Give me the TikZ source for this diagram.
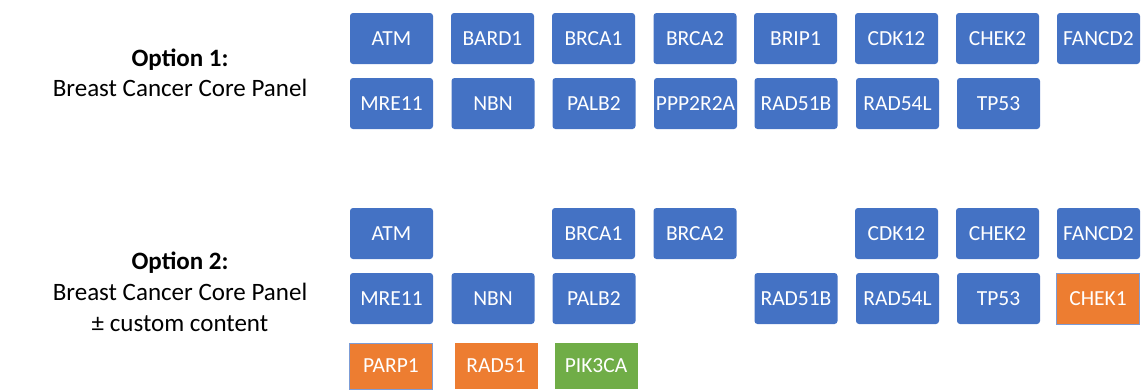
\documentclass[tikz,border=0pt]{standalone}
\usepackage{fontspec}
\setmainfont{Carlito}
\definecolor{gblue}{HTML}{4472C4}
\definecolor{gorange}{HTML}{ED7D31}
\definecolor{ggreen}{HTML}{70AD47}
\begin{document}
\begin{tikzpicture}[x=1pt,y=-1pt,
  genebox/.style={rounded corners=3pt, fill=gblue, text=white,
    font=\fontsize{21.5}{22}\selectfont, minimum width=83pt, minimum height=51pt,
    inner sep=0pt, text height=13.8pt, text depth=0pt},
  addbox/.style={genebox, rounded corners=0pt, fill=gorange, minimum height=46pt},
  addbluebox/.style={addbox, draw=gblue!70, line width=0.8pt},
  greenbox/.style={addbox, fill=ggreen},
  optlabel/.style={anchor=base, inner sep=0pt, font=\fontsize{25}{26}\selectfont\bfseries},
  panellabel/.style={anchor=base, inner sep=0pt, font=\fontsize{25}{26}\selectfont}]
\useasboundingbox (0,0) rectangle (1143,389);
\clip (0,0) rectangle (1143,389);
% Option 1 labels
\node[optlabel] (o1a) at (180,66.7) {Option 1:};
\node[panellabel] (o1b) at (180,96.7) {Breast Cancer Core Panel};
% Option 1 row 1
\node[genebox] (a1) at (391.5,38.5) {ATM};
\node[genebox] (a2) at (492.5,38.5) {BARD1};
\node[genebox] (a3) at (593.5,38.5) {BRCA1};
\node[genebox] (a4) at (695,38.5) {BRCA2};
\node[genebox] (a5) at (795.5,38.5) {BRIP1};
\node[genebox] (a6) at (896.5,38.5) {CDK12};
\node[genebox] (a7) at (997.5,38.5) {CHEK2};
\node[genebox] (a8) at (1098.5,38.5) {FANCD2};
% Option 1 row 2
\node[genebox] (b1) at (391.5,103.5) {MRE11};
\node[genebox] (b2) at (493,103.5) {NBN};
\node[genebox] (b3) at (594,103.5) {PALB2};
\node[genebox] (b4) at (695.5,103.5) {PPP2R2A};
\node[genebox] (b5) at (796,103.5) {RAD51B};
\node[genebox] (b6) at (897.5,103.5) {RAD54L};
\node[genebox] (b7) at (998.5,103.5) {TP53};
% Option 2 labels
\node[optlabel] (o2a) at (180,269.3) {Option 2:};
\node[panellabel] (o2b) at (180,300) {Breast Cancer Core Panel};
\node[panellabel] (o2c) at (180,331) {± custom content};
% Option 2 row 1
\node[genebox] (c1) at (391.5,233.5) {ATM};
\node[genebox] (c3) at (593.5,233.5) {BRCA1};
\node[genebox] (c4) at (695,233.5) {BRCA2};
\node[genebox] (c6) at (896.5,233.5) {CDK12};
\node[genebox] (c7) at (997.5,233.5) {CHEK2};
\node[genebox] (c8) at (1098.5,233.5) {FANCD2};
% Option 2 row 2
\node[genebox] (d1) at (391.5,298.5) {MRE11};
\node[genebox] (d2) at (493,298.5) {NBN};
\node[genebox] (d3) at (594,298.5) {PALB2};
\node[genebox] (d5) at (796,298.5) {RAD51B};
\node[genebox] (d6) at (897.5,298.5) {RAD54L};
\node[genebox] (d7) at (998.5,298.5) {TP53};
\node[addbluebox, minimum height=51pt] (d8) at (1098,298.5) {CHEK1};
% Option 2 row 3
\node[addbluebox] (e1) at (391,366) {PARP1};
\node[addbox] (e2) at (496,366) {RAD51};
\node[greenbox] (e3) at (596,366) {PIK3CA};
\end{tikzpicture}
\end{document}
